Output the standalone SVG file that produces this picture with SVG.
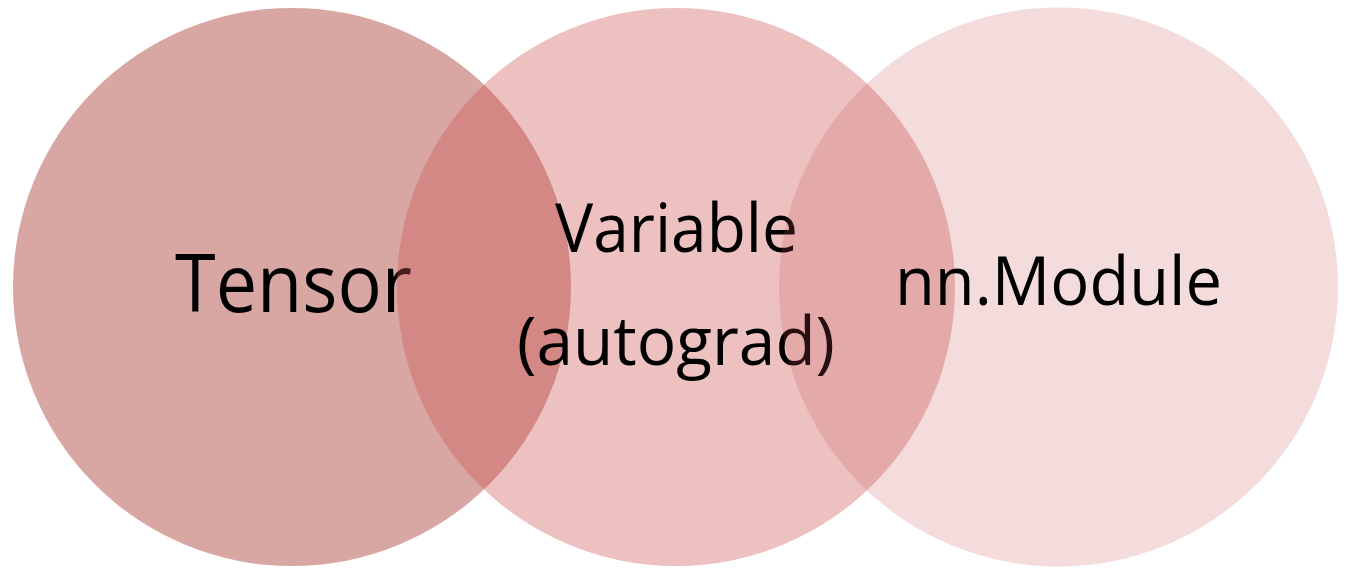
<svg xmlns="http://www.w3.org/2000/svg" width="1353" height="579" viewBox="0 0 1353 579">
<style>
text{font-family:"Open Sans","Noto Sans","Liberation Sans",sans-serif;fill:#000;text-anchor:middle}
</style>
<rect width="1353" height="579" fill="#ffffff"/>
<g id="tensor">
<circle cx="292" cy="287" r="279" fill="#d8a7a3"/>
<text x="293.5" y="312" font-size="80" textLength="237" lengthAdjust="spacingAndGlyphs">Tensor</text>
</g>
<g id="variable">
<circle cx="676" cy="287" r="279" fill="#ca5350" fill-opacity="0.36"/>
<text x="676.5" y="252" font-size="68" textLength="243" lengthAdjust="spacingAndGlyphs">Variable</text>
<text x="676" y="365" font-size="68" textLength="318" lengthAdjust="spacingAndGlyphs">(autograd)</text>
</g>
<g id="module">
<circle cx="1058.5" cy="287" r="279.5" fill="#c85055" fill-opacity="0.2"/>
<text x="1058.5" y="305" font-size="68" textLength="327" lengthAdjust="spacingAndGlyphs">nn.Module</text>
</g>
<g id="connectors"/>
</svg>
